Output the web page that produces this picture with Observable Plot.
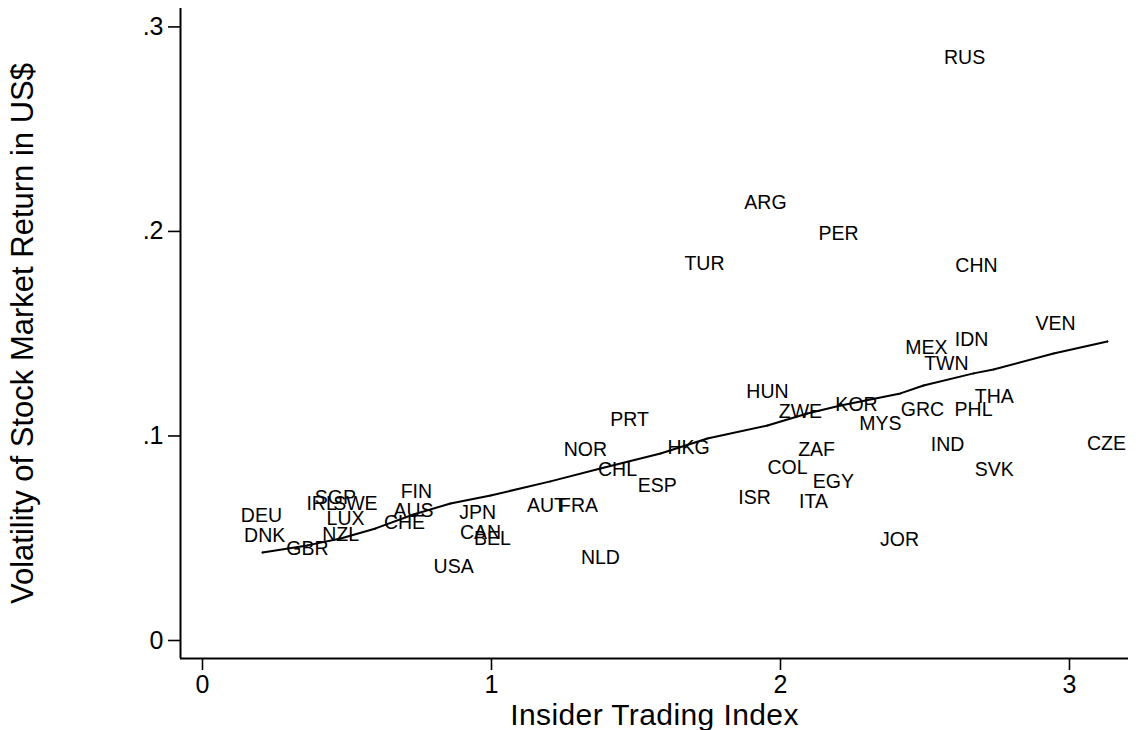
<!DOCTYPE html>
<html>
<head>
<meta charset="utf-8">
<script src="https://cdn.jsdelivr.net/npm/d3@7"></script>
<script src="https://cdn.jsdelivr.net/npm/@observablehq/plot@0.6"></script>
<style>
  html, body { margin: 0; padding: 0; background: #fff; }
  #chart { width: 1136px; height: 730px; }
</style>
</head>
<body>
<div id="chart"></div>
<script>
// Country codes, Insider Trading Index (x) and volatility of stock market return in US$ (y)
const countries = ["RUS","ARG","PER","TUR","CHN","VEN","IDN","MEX","TWN","HUN","THA","PRT","ZWE","KOR","GRC","PHL","MYS","NOR","HKG","ZAF","IND","CZE","CHL","COL","SVK","EGY","ESP","ISR","ITA","AUT","FRA","FIN","SGP","IRL","SWE","AUS","LUX","CHE","JPN","DEU","DNK","NZL","CAN","BEL","GBR","USA","NLD","JOR"];
const insiderIndex = [2.637,1.948,2.201,1.737,2.678,2.952,2.661,2.505,2.574,1.955,2.740,1.478,2.069,2.263,2.491,2.668,2.346,1.325,1.682,2.125,2.578,3.128,1.436,2.024,2.740,2.183,1.574,1.910,2.114,1.190,1.301,0.740,0.460,0.412,0.529,0.730,0.495,0.699,0.952,0.204,0.215,0.478,0.962,1.003,0.363,0.869,1.377,2.412];
const volatility = [0.2851,0.2142,0.1990,0.1844,0.1834,0.1550,0.1472,0.1433,0.1355,0.1218,0.1193,0.1081,0.1120,0.1154,0.1130,0.1130,0.1061,0.0934,0.0944,0.0934,0.0958,0.0963,0.0836,0.0846,0.0836,0.0778,0.0758,0.0699,0.0680,0.0660,0.0660,0.0729,0.0699,0.0670,0.0670,0.0636,0.0597,0.0577,0.0626,0.0611,0.0513,0.0518,0.0528,0.0499,0.0450,0.0362,0.0406,0.0494];

// Fitted line
const fitX = [0.208,0.363,0.478,0.599,0.730,0.858,0.997,1.204,1.377,1.585,1.747,1.955,2.093,2.208,2.415,2.495,2.668,2.737,2.945,3.131];
const fitY = [0.0430,0.0465,0.0499,0.0548,0.0616,0.0670,0.0709,0.0778,0.0841,0.0914,0.0988,0.1051,0.1110,0.1149,0.1208,0.1247,0.1306,0.1325,0.1403,0.1462];

// Axis ticks and titles
const xTicks = [0, 1, 2, 3];
const yTicks = [0, 0.1, 0.2, 0.3];
const xTitle = "Insider Trading Index";
const yTitle = "Volatility of Stock Market Return in US$";

const points = countries.map((c, i) => ({code: c, x: insiderIndex[i], y: volatility[i]}));
const fit = fitX.map((x, i) => ({x, y: fitY[i]}));

const xDomain = [-0.0761, 3.2042];
const yDomain = [-0.0088, 0.3090];

const font = "'Liberation Sans', Arial, Helvetica, sans-serif";

const chart = Plot.plot({
  width: 1136,
  height: 730,
  marginLeft: 180,
  marginRight: 8,
  marginTop: 8,
  marginBottom: 72,
  style: {fontFamily: font, background: "#fff", color: "#000"},
  x: {domain: xDomain},
  y: {domain: yDomain},
  marks: [
    Plot.axisX({ticks: xTicks, tickSize: 12, tickPadding: 5, fontSize: 25, strokeWidth: 1.6, label: null, tickFormat: d => String(d)}),
    Plot.axisY({ticks: yTicks, tickSize: 12, tickPadding: 5, fontSize: 25, strokeWidth: 1.6, label: null,
      tickFormat: d => d === 0 ? "0" : d3.format(".1f")(d).replace(/^0/, "")}),
    Plot.ruleX([xDomain[0]], {y1: yDomain[0], y2: yDomain[1], stroke: "#000", strokeWidth: 2}),
    Plot.ruleY([yDomain[0]], {x1: xDomain[0], x2: xDomain[1], stroke: "#000", strokeWidth: 2}),
    Plot.line(fit, {x: "x", y: "y", stroke: "#000", strokeWidth: 2, curve: "linear"}),
    Plot.dot(fit, {x: "x", y: "y", r: 1, fill: "#000", stroke: null}),
    Plot.text(points, {x: "x", y: "y", text: "code", fontSize: 19.5, fill: "#000", textAnchor: "middle", lineAnchor: "middle"}),
    Plot.text([xTitle], {frameAnchor: "bottom", dy: 57, text: d => d, fontSize: 30, fill: "#000", textAnchor: "middle", lineAnchor: "middle"}),
    Plot.text([yTitle], {frameAnchor: "left", dx: -157, rotate: -90, text: d => d, fontSize: 31, fill: "#000", textAnchor: "middle", lineAnchor: "middle"})
  ]
});

chart.querySelectorAll("text").forEach(t => {
  if (t.textContent === xTitle) t.setAttribute("letter-spacing", "0.4");
});

document.getElementById("chart").appendChild(chart);
</script>
</body>
</html>
